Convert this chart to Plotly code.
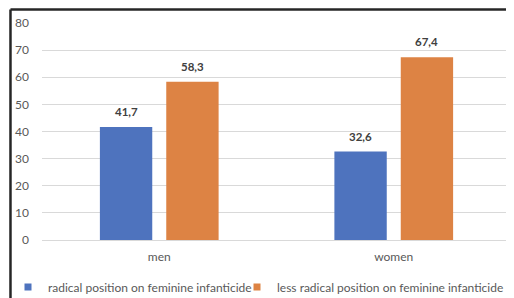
import plotly.graph_objects as go

categories = ["men", "women"]
radical = [41.7, 32.6]
less_radical = [58.3, 67.4]
series_names = ["radical position on feminine infanticide",
                "less radical position on feminine infanticide"]
y_ticks = [0, 10, 20, 30, 40, 50, 60, 70, 80]

colors = ["#4E73BE", "#DD8344"]
FONT = "Lato, 'Open Sans', sans-serif"

def fmt(v):
    return f"{v:.1f}".replace(".", ",")

fig = go.Figure()
for name, vals, col in zip(series_names, [radical, less_radical], colors):
    fig.add_trace(go.Bar(x=categories, y=vals, name=name, marker_color=col,
                         marker_line_width=0, hoverinfo="skip", showlegend=False))
# legend entries with small square keys, one legend box each
for name, col, lg in zip(series_names, colors, ["legend", "legend2"]):
    fig.add_trace(go.Scatter(x=[None], y=[None], mode="markers", name=name,
                             marker=dict(symbol="square", size=7, color=col),
                             showlegend=True, hoverinfo="skip", legend=lg))

# data labels
for vals, shift in zip([radical, less_radical], [-33, 33]):
    for c, v in zip(categories, vals):
        fig.add_annotation(x=c, y=v, text=f"<b>{fmt(v)}</b>", showarrow=False,
                           xshift=shift, yshift=7, yanchor="bottom",
                           font=dict(family=FONT, size=11.5, color="#404040"))

# frame lines (top and left)
fig.add_shape(type="line", xref="paper", yref="paper", x0=-0.0672, x1=1.2,
              y0=1.062, y1=1.062, line=dict(color="#262626", width=2.5))
fig.add_shape(type="line", xref="paper", yref="paper", x0=-0.0672, x1=-0.0672,
              y0=-0.5, y1=1.062, line=dict(color="#262626", width=2.5))

legend_common = dict(orientation="h", xref="container", yref="container",
                     xanchor="left", y=0.038, yanchor="middle",
                     font=dict(family=FONT, size=12, color="#595959"),
                     itemwidth=30, bgcolor="rgba(0,0,0,0)")

fig.update_layout(
    width=506, height=290,
    margin=dict(l=34, r=3, t=15, b=58, autoexpand=False),
    paper_bgcolor="white", plot_bgcolor="white",
    barmode="group", bargap=0.434, bargroupgap=0.211,
    font=dict(family=FONT, size=12, color="#595959"),
    showlegend=True,
    legend=dict(x=0, **legend_common),
    legend2=dict(x=229 / 506, **legend_common),
    yaxis=dict(range=[0, 80], tickvals=y_ticks, showgrid=True, gridcolor="#D9D9D9",
               gridwidth=1, zeroline=False, showline=False, ticks="",
               tickfont=dict(size=12, color="#595959"), ticklabelstandoff=12),
    xaxis=dict(showline=True, linecolor="#D9D9D9", linewidth=1, ticks="",
               tickfont=dict(size=12, color="#595959"), ticklabelstandoff=6),
)

fig.write_html("out.html")
